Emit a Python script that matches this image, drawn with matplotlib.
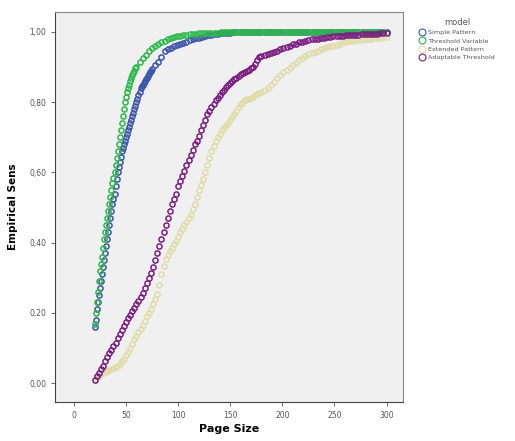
import numpy as np
import matplotlib
matplotlib.use('Agg')
import matplotlib.pyplot as plt
from matplotlib.lines import Line2D

# Page Size values (x) for each model
x_simple = np.concatenate([np.arange(20, 76, 1), np.arange(78, 301, 3)])
x_thresh = np.concatenate([np.arange(20, 61, 1), np.arange(63, 301, 3)])
x_ext = np.concatenate([np.arange(20, 181, 2), np.arange(183, 301, 3)])
x_adapt = np.concatenate([np.arange(20, 181, 2), np.arange(183, 301, 3)])

# Empirical Sens, Simple Pattern
y_simple = [
    0.16, 0.18, 0.21, 0.23, 0.25, 0.27, 0.29, 0.31, 0.33, 0.35,
    0.37, 0.39, 0.41, 0.43, 0.45, 0.47, 0.49, 0.51, 0.525, 0.54,
    0.56, 0.58, 0.60, 0.615, 0.63, 0.645, 0.66, 0.67, 0.68, 0.69,
    0.70, 0.71, 0.72, 0.73, 0.74, 0.75, 0.76, 0.77, 0.78, 0.79,
    0.80, 0.81, 0.82, 0.83, 0.84, 0.845, 0.85, 0.855, 0.86, 0.865,
    0.87, 0.875, 0.88, 0.885, 0.89, 0.895,
    0.905, 0.915, 0.93, 0.945, 0.95, 0.955, 0.96, 0.962, 0.965, 0.968,
    0.972, 0.976, 0.98, 0.982, 0.984, 0.986, 0.988, 0.99, 0.992, 0.994,
    0.995, 0.996, 0.997, 0.998, 0.998, 0.999,
    1.0, 1.0, 1.0, 1.0, 1.0, 1.0, 1.0, 1.0, 1.0, 1.0,
    1.0, 1.0, 1.0, 1.0, 1.0, 1.0, 1.0, 1.0, 1.0, 1.0,
    1.0, 1.0, 1.0, 1.0, 1.0, 1.0, 1.0, 1.0, 1.0, 1.0,
    1.0, 1.0, 1.0, 1.0, 1.0, 1.0, 1.0, 1.0, 1.0, 1.0,
    1.0, 1.0, 1.0, 1.0, 1.0, 1.0, 1.0, 1.0, 1.0,
]

# Empirical Sens, Threshold Variable
y_thresh = [
    0.17, 0.20, 0.23, 0.26, 0.29, 0.32, 0.34, 0.36, 0.385, 0.41,
    0.43, 0.45, 0.47, 0.49, 0.51, 0.53, 0.55, 0.57, 0.585, 0.60,
    0.62, 0.64, 0.66, 0.68, 0.70, 0.72, 0.74, 0.76, 0.78, 0.80,
    0.815, 0.83, 0.84, 0.85, 0.86, 0.87, 0.877, 0.884, 0.89, 0.896,
    0.90,
    0.913, 0.925, 0.935, 0.945, 0.953, 0.96, 0.966, 0.971, 0.975, 0.979,
    0.982, 0.985, 0.987, 0.989, 0.99, 0.992, 0.993, 0.994, 0.995, 0.996,
    0.996, 0.997, 0.997, 0.998, 0.998, 0.998, 0.999, 0.999, 0.999,
    1.0, 1.0, 1.0, 1.0, 1.0, 1.0, 1.0, 1.0, 1.0, 1.0,
    1.0, 1.0, 1.0, 1.0, 1.0, 1.0, 1.0, 1.0, 1.0, 1.0,
    1.0, 1.0, 1.0, 1.0, 1.0, 1.0, 1.0, 1.0, 1.0, 1.0,
    1.0, 1.0, 1.0, 1.0, 1.0, 1.0, 1.0, 1.0, 1.0, 1.0,
    1.0, 1.0, 1.0, 1.0, 1.0, 1.0, 1.0, 1.0, 1.0, 1.0,
    1.0,
]

# Empirical Sens, Extended Pattern
y_ext = [
    0.01, 0.015, 0.02, 0.025, 0.028, 0.032, 0.035, 0.038, 0.04, 0.043,
    0.046, 0.05, 0.055, 0.062, 0.07, 0.08, 0.09, 0.10, 0.112, 0.125,
    0.135, 0.145, 0.155, 0.165, 0.178, 0.19, 0.20, 0.21, 0.225, 0.24,
    0.255, 0.28, 0.31, 0.335, 0.355, 0.365, 0.375, 0.385, 0.395, 0.405,
    0.415, 0.43, 0.44, 0.45, 0.46, 0.47, 0.48, 0.495, 0.51, 0.53,
    0.55, 0.565, 0.58, 0.60, 0.62, 0.64, 0.66, 0.675, 0.69, 0.70,
    0.71, 0.72, 0.727, 0.735, 0.742, 0.75, 0.757, 0.765, 0.775, 0.785,
    0.795, 0.80, 0.805, 0.808, 0.81, 0.812, 0.815, 0.82, 0.823, 0.826,
    0.83,
    0.834, 0.84, 0.848, 0.858, 0.868, 0.878, 0.886, 0.892, 0.898, 0.905,
    0.912, 0.92, 0.927, 0.932, 0.936, 0.94, 0.943, 0.946, 0.95, 0.954,
    0.957, 0.959, 0.961, 0.964, 0.967, 0.97, 0.972, 0.974, 0.975, 0.976,
    0.977, 0.978, 0.979, 0.98, 0.981, 0.982, 0.983, 0.984, 0.985, 0.986,
]

# Empirical Sens, Adaptable Threshold
y_adapt = [
    0.01, 0.02, 0.03, 0.04, 0.05, 0.062, 0.074, 0.085, 0.095, 0.105,
    0.115, 0.128, 0.14, 0.152, 0.164, 0.175, 0.185, 0.195, 0.205, 0.215,
    0.225, 0.235, 0.246, 0.258, 0.27, 0.285, 0.30, 0.315, 0.33, 0.35,
    0.37, 0.39, 0.41, 0.43, 0.45, 0.47, 0.49, 0.51, 0.525, 0.54,
    0.56, 0.575, 0.59, 0.605, 0.62, 0.635, 0.65, 0.665, 0.68, 0.69,
    0.705, 0.72, 0.735, 0.75, 0.765, 0.775, 0.785, 0.795, 0.805, 0.812,
    0.82, 0.828, 0.836, 0.843, 0.85, 0.855, 0.86, 0.865, 0.87, 0.875,
    0.88, 0.884, 0.887, 0.89, 0.893, 0.896, 0.90, 0.91, 0.92, 0.928,
    0.932,
    0.935, 0.938, 0.941, 0.944, 0.947, 0.95, 0.953, 0.957, 0.961, 0.965,
    0.967, 0.97, 0.972, 0.975, 0.977, 0.979, 0.98, 0.981, 0.983, 0.984,
    0.985, 0.986, 0.987, 0.988, 0.988, 0.989, 0.99, 0.99, 0.991, 0.992,
    0.992, 0.993, 0.993, 0.994, 0.994, 0.995, 0.995, 0.996, 0.996, 0.997,
]

models = ['Simple Pattern', 'Threshold Variable', 'Extended Pattern', 'Adaptable Threshold']
colors = ['#3C55AA', '#2DB84A', '#E0DCAA', '#7A1E80']
xs = [x_simple, x_thresh, x_ext, x_adapt]
ys = [y_simple, y_thresh, y_ext, y_adapt]

fig = plt.figure(figsize=(5.15, 4.41), dpi=100)
ax = fig.add_axes([0.107, 0.088, 0.676, 0.885])
ax.set_facecolor('#F0F0F0')

for xv, yv, c in zip(xs, ys, colors):
    ax.plot(xv, yv, linestyle='none', marker='o', markersize=3.7,
            markerfacecolor='none', markeredgecolor=c, markeredgewidth=1.1)

ax.set_xlim(-18, 316)
ax.set_ylim(-0.054, 1.057)
ax.set_xticks([0, 50, 100, 150, 200, 250, 300])
ax.set_yticks([0.0, 0.2, 0.4, 0.6, 0.8, 1.0])
ax.set_yticklabels(['0,00', '0,20', '0,40', '0,60', '0,80', '1,00'])
ax.tick_params(labelsize=5.5, labelcolor='#555555', length=3, width=0.6, color='#555555')
for s in ax.spines.values():
    s.set_color('#888888')
    s.set_linewidth(0.8)
ax.spines['left'].set_color('#444444')
ax.spines['bottom'].set_color('#444444')

ax.set_xlabel('Page Size', fontsize=8, fontweight='bold', labelpad=3)
ax.set_ylabel('Empirical Sens', fontsize=7.5, fontweight='bold', labelpad=8)

handles = [Line2D([], [], linestyle='none', marker='o', markersize=5,
                  markerfacecolor='none', markeredgecolor=c, markeredgewidth=0.8)
           for c in colors]
leg = fig.legend(handles, models, title='model', loc='upper left',
                 bbox_to_anchor=(0.808, 0.965), frameon=False, fontsize=4.6,
                 title_fontsize=6, handletextpad=0.6, handlelength=0.9,
                 labelspacing=0.45, borderaxespad=0)
for t in leg.get_texts():
    t.set_color('#555555')
leg.get_title().set_color('#555555')

fig.savefig('out.png', dpi=100)
